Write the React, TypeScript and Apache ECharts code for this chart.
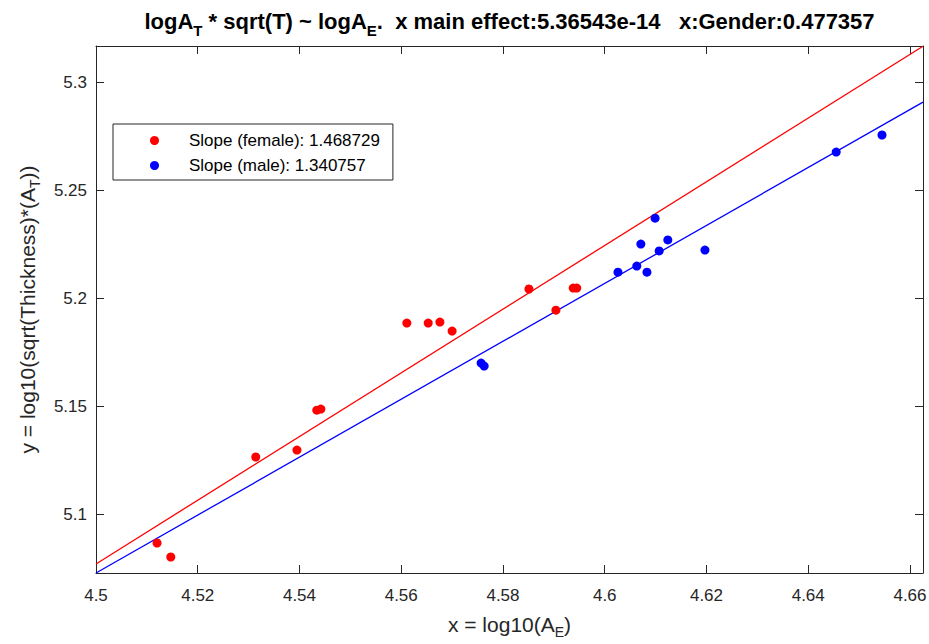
import React, { useEffect, useRef } from "react";
import * as echarts from "echarts";

// female points (red)
const femaleX = [4.5120, 4.5147, 4.5314, 4.5395, 4.5434, 4.5442, 4.5611, 4.5653, 4.5676, 4.5700, 4.5851, 4.5904, 4.5938, 4.5945];
const femaleY = [5.0866, 5.0801, 5.1264, 5.1296, 5.1481, 5.1486, 5.1884, 5.1884, 5.1889, 5.1847, 5.2042, 5.1944, 5.2046, 5.2046];
// male points (blue)
const maleX = [4.5757, 4.5763, 4.6026, 4.6063, 4.6071, 4.6083, 4.6099, 4.6107, 4.6124, 4.6197, 4.6455, 4.6545];
const maleY = [5.1699, 5.1685, 5.2120, 5.2148, 5.2250, 5.2120, 5.2370, 5.2218, 5.2269, 5.2222, 5.2676, 5.2755];
// fitted lines (endpoints at x limits)
const fitX = [4.5, 4.66256];
const femaleFitY = [5.0769, 5.3166];
const maleFitY = [5.0727, 5.2907];

const xTicks = [4.5, 4.52, 4.54, 4.56, 4.58, 4.6, 4.62, 4.64, 4.66];
const yTicks = [5.1, 5.15, 5.2, 5.25, 5.3];
const xLimits = [4.5, 4.66256];
const yLimits = [5.0727, 5.3167];

const femaleName = "Slope (female): 1.468729";
const maleName = "Slope (male): 1.340757";

const FONT = "'Liberation Sans', Arial, Helvetica, sans-serif";
const AX = "#262626";

function zip(xs: number[], ys: number[]) {
  return xs.map((x, i) => [x, ys[i]]);
}

export default function App() {
  const ref = useRef<HTMLDivElement>(null);
  useEffect(() => {
    document.body.style.margin = "0";
    const chart = echarts.init(ref.current!, null, { renderer: "svg" });
    const fmt = (v: number) => String(parseFloat(v.toFixed(4)));
    const baseX = {
      type: "value",
      min: xLimits[0],
      max: xLimits[1],
      gridIndex: 0,
      splitLine: { show: false },
      axisLine: { show: true, onZero: false, lineStyle: { color: AX, width: 1 } },
      axisTick: { show: true, inside: true, length: 8, customValues: xTicks, lineStyle: { color: AX, width: 1 } },
    };
    const baseY = {
      type: "value",
      min: yLimits[0],
      max: yLimits[1],
      gridIndex: 0,
      splitLine: { show: false },
      axisLine: { show: true, onZero: false, lineStyle: { color: AX, width: 1 } },
      axisTick: { show: true, inside: true, length: 8, customValues: yTicks, lineStyle: { color: AX, width: 1 } },
    };
    const nameRich = {
      n: { fontSize: 21, color: AX, fontFamily: FONT, lineHeight: 30, verticalAlign: "middle" },
      s: { fontSize: 14, color: AX, fontFamily: FONT, lineHeight: 12, verticalAlign: "bottom" },
    };
    chart.setOption({
      animation: false,
      backgroundColor: "#ffffff",
      textStyle: { fontFamily: FONT },
      grid: { left: 96, right: 6, top: 46, bottom: 71, containLabel: false, outerBoundsMode: "none" },
      xAxis: [
        {
          ...baseX,
          position: "bottom",
          axisLabel: {
            customValues: xTicks,
            formatter: fmt,
            fontSize: 17,
            color: AX,
            fontFamily: FONT,
            margin: 14,
          },
          name: "{n|x = log10(A}{s|E}{n|)}",
          nameLocation: "middle",
          nameGap: 36,
          nameTextStyle: { rich: nameRich },
        },
        { ...baseX, position: "top", axisLabel: { show: false } },
      ],
      yAxis: [
        {
          ...baseY,
          position: "left",
          axisLabel: {
            customValues: yTicks,
            formatter: fmt,
            fontSize: 17,
            color: AX,
            fontFamily: FONT,
            margin: 9,
          },
          name: "{n|y = log10(sqrt(Thickness)*(A}{s|T}{n|))}",
          nameLocation: "middle",
          nameGap: 54,
          nameRotate: 90,
          nameTextStyle: { rich: nameRich },
        },
        { ...baseY, position: "right", axisLabel: { show: false } },
      ],
      legend: {
        left: 113,
        top: 124,
        orient: "vertical",
        data: [femaleName, maleName],
        icon: "circle",
        itemWidth: 9,
        itemHeight: 9,
        itemGap: 6,
        padding: [7, 13, 5, 37],
        borderColor: AX,
        borderWidth: 1,
        borderRadius: 0,
        backgroundColor: "#ffffff",
        textStyle: { fontSize: 17, color: "#000", fontFamily: FONT, lineHeight: 19, padding: [0, 0, 0, 25] },
        selectedMode: false,
      },
      graphic: [
        {
          type: "text",
          x: 509.5,
          y: 4,
          style: {
            text: "{b|logA}{s|T}{b| * sqrt(T) ~ logA}{s|E}{b|.  x main effect:5.36543e-14   x:Gender:0.477357}",
            align: "center",
            verticalAlign: "top",
            textAlign: "center",
            textVerticalAlign: "top",
            rich: {
              b: { fontSize: 22, fontWeight: "bold", fill: "#000", fontFamily: FONT, lineHeight: 34, verticalAlign: "middle" },
              s: { fontSize: 15, fontWeight: "bold", fill: "#000", fontFamily: FONT, lineHeight: 11, verticalAlign: "bottom" },
            },
          },
        },
      ],
      series: [
        {
          name: femaleName,
          type: "scatter",
          xAxisIndex: 0,
          yAxisIndex: 0,
          data: zip(femaleX, femaleY),
          symbol: "circle",
          symbolSize: 9,
          itemStyle: { color: "#ff0000", opacity: 1 },
          z: 3,
        },
        {
          name: maleName,
          type: "scatter",
          xAxisIndex: 0,
          yAxisIndex: 0,
          data: zip(maleX, maleY),
          symbol: "circle",
          symbolSize: 9,
          itemStyle: { color: "#0000ff", opacity: 1 },
          z: 3,
        },
        {
          name: "female fit",
          type: "line",
          xAxisIndex: 0,
          yAxisIndex: 0,
          data: zip(fitX, femaleFitY),
          showSymbol: false,
          symbol: "none",
          lineStyle: { color: "#ff0000", width: 1.3 },
          z: 2,
          silent: true,
        },
        {
          name: "male fit",
          type: "line",
          xAxisIndex: 0,
          yAxisIndex: 0,
          data: zip(fitX, maleFitY),
          showSymbol: false,
          symbol: "none",
          lineStyle: { color: "#0000ff", width: 1.3 },
          z: 2,
          silent: true,
        },
      ],
    });
    return () => chart.dispose();
  }, []);
  return <div ref={ref} style={{ width: 929, height: 644, position: "absolute", left: 0, top: 0 }} />;
}
